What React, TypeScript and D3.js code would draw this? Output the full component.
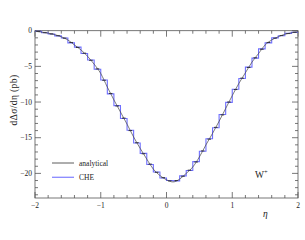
import React from 'react';
import * as d3 from 'd3';

// analytical curve, eta = -2 .. 2 step 0.1
const etaPoints = d3.range(41).map(i => -2 + i * 0.1);
const analytical = [
  -0.05, -0.2, -0.35, -0.55, -0.85, -1.3, -2.0, -2.7, -3.6, -4.7,
  -6.0, -7.9, -9.7, -11.4, -13.1, -14.9, -16.5, -18.0, -19.4, -20.3,
  -20.9, -21.2, -20.8, -20.0, -19.1, -17.7, -16.0, -14.4, -12.7, -10.9,
  -9.1, -7.4, -5.9, -4.4, -3.2, -2.0, -1.3, -0.85, -0.5, -0.3, -0.15,
];
// binned analytical (width 0.1)
const binEdges = d3.range(41).map(i => -2 + i * 0.1);
const analyticalBins = [
  -0.12, -0.27, -0.45, -0.7, -1.05, -1.65, -2.35, -3.15, -4.15, -5.35,
  -6.95, -8.8, -10.55, -12.25, -14.0, -15.7, -17.25, -18.7, -19.85, -20.6,
  -21.05, -21.0, -20.4, -19.55, -18.4, -16.85, -15.2, -13.55, -11.8, -10.0,
  -8.25, -6.65, -5.15, -3.8, -2.6, -1.65, -1.05, -0.68, -0.4, -0.22,
];
const cheBins = [
  -0.1, -0.28, -0.47, -0.72, -1.02, -1.7, -2.3, -3.2, -4.1, -5.4,
  -6.9, -8.85, -10.5, -12.3, -13.95, -15.75, -17.2, -18.75, -19.8, -20.65,
  -21.0, -21.05, -20.35, -19.6, -18.35, -16.9, -15.15, -13.6, -11.75, -10.05,
  -8.2, -6.7, -5.1, -3.85, -2.55, -1.7, -1.0, -0.7, -0.38, -0.24,
];
const xTicks = [-2, -1, 0, 1, 2];
const yTicks = [0, -5, -10, -15, -20];

const left = 35, right = 298, top = 30.7, bottom = 198;
const serif = '"Liberation Serif", "DejaVu Serif", serif';

export default function App() {
  const x = d3.scaleLinear().domain([-2, 2]).range([left, right]);
  const y = d3.scaleLinear().domain([-23.45, 0]).range([bottom, top]);

  const curve = d3.line<number>()
    .x((_, i) => x(etaPoints[i]))
    .y(d => y(d))
    .curve(d3.curveMonotoneX)(analytical) as string;

  const step = d3.line<[number, number]>()
    .x(d => x(d[0]))
    .y(d => y(d[1]))
    .curve(d3.curveStepAfter)(
      [...cheBins.map((v, i) => [binEdges[i], v] as [number, number]), [2, cheBins[cheBins.length - 1]]]
    ) as string;

  const xMinor = d3.range(21).map(i => -2 + i * 0.2).filter(v => Math.abs(v - Math.round(v)) > 1e-6);
  const yMinor = d3.range(0, 24).map(i => -i).filter(v => v % 5 !== 0);
  const fmt = (v: number) => (v < 0 ? '\u2212' + Math.abs(v) : String(v));

  return (
    <svg width={305} height={240} style={{ position: 'absolute', left: 0, top: 0, background: '#fff' }}>
      <rect x={0} y={0} width={305} height={240} fill="#fff" />
      <g stroke="#555" strokeWidth={0.8}>
        {xTicks.map(t => (
          <g key={'xt' + t}>
            <line x1={x(t)} x2={x(t)} y1={bottom} y2={bottom - 6} />
            <line x1={x(t)} x2={x(t)} y1={top} y2={top + 6} />
          </g>
        ))}
        {xMinor.map(t => (
          <g key={'xm' + t}>
            <line x1={x(t)} x2={x(t)} y1={bottom} y2={bottom - 3} />
            <line x1={x(t)} x2={x(t)} y1={top} y2={top + 3} />
          </g>
        ))}
        {yTicks.map(t => (
          <g key={'yt' + t}>
            <line x1={left} x2={left + 6} y1={y(t)} y2={y(t)} />
            <line x1={right} x2={right - 6} y1={y(t)} y2={y(t)} />
          </g>
        ))}
        {yMinor.map(t => (
          <g key={'ym' + t}>
            <line x1={left} x2={left + 3} y1={y(t)} y2={y(t)} />
            <line x1={right} x2={right - 3} y1={y(t)} y2={y(t)} />
          </g>
        ))}
        <rect x={left} y={top} width={right - left} height={bottom - top} fill="none" />
      </g>

      <path d={step} fill="none" stroke="#6f6fff" strokeWidth={1.1} />
      <g stroke="#222" strokeWidth={0.9}>
        {analyticalBins.map((v, i) => (
          <line key={'ab' + i} x1={x(binEdges[i]) + 1.5} x2={x(binEdges[i + 1]) - 1.5} y1={y(v)} y2={y(v)} />
        ))}
      </g>
      <path d={curve} fill="none" stroke="#444" strokeWidth={0.7} />

      <g fontFamily={serif} fontSize={7.5} fill="#222">
        {xTicks.map(t => (
          <text key={'xl' + t} x={x(t)} y={bottom + 9.5} textAnchor="middle">{fmt(t)}</text>
        ))}
        {yTicks.map(t => (
          <text key={'yl' + t} x={left - 3} y={y(t) + 2.5} textAnchor="end">{fmt(t)}</text>
        ))}
      </g>
      <text x={263} y={217} fontFamily={serif} fontSize={9.5} fontStyle="italic" fill="#222">η</text>
      <text transform={`translate(17,100) rotate(-90)`} textAnchor="middle" fontFamily={serif} fontSize={9.5} fill="#222" letterSpacing={0.4}>
        dΔσ/dη  (pb)
      </text>

      <line x1={52} x2={74} y1={163} y2={163} stroke="#333" strokeWidth={0.8} />
      <text x={79} y={165.5} fontFamily={serif} fontSize={7.5} fill="#222">analytical</text>
      <line x1={52} x2={74} y1={177.3} y2={177.3} stroke="#8888ff" strokeWidth={1.3} />
      <text x={79} y={179.8} fontFamily={serif} fontSize={7.5} fill="#222">CHE</text>
      <text x={255} y={178} fontFamily={serif} fontSize={9.5} fill="#222">
        W<tspan dy={-4} fontSize={6.5}>+</tspan>
      </text>
    </svg>
  );
}
